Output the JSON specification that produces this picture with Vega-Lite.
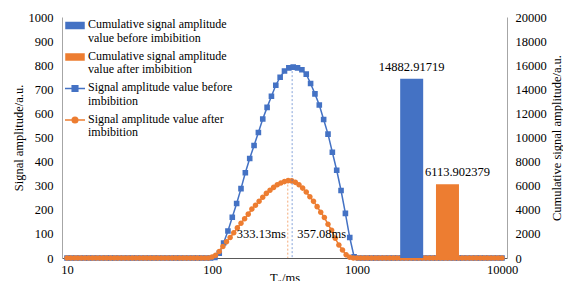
{
  "$schema": "https://vega.github.io/schema/vega-lite/v6.json",
  "width": 445,
  "height": 241,
  "autosize": {"type": "none"},
  "padding": {"left": 62, "top": 17, "right": 56, "bottom": 23},
  "config": {
    "font": "Liberation Serif",
    "view": {"stroke": null},
    "axis": {"labelFont": "Liberation Serif", "titleFont": "Liberation Serif", "labelFontSize": 12.5, "titleFontSize": 12.5, "titleFontWeight": "normal", "labelColor": "#000000", "titleColor": "#000000", "grid": false, "labelOverlap": false},
    "axisQuantitative": {"labelFont": "Liberation Serif", "labelFontSize": 12.5},
    "text": {"font": "Liberation Serif"}
  },
  "datasets": {
    "sig": [
      {"s":"SB","T":10,"v":0},{"s":"SB","T":10.72,"v":0},{"s":"SB","T":11.48,"v":0},{"s":"SB","T":12.3,"v":0},{"s":"SB","T":13.18,"v":0},{"s":"SB","T":14.13,"v":0},{"s":"SB","T":15.14,"v":0},{"s":"SB","T":16.22,"v":0},{"s":"SB","T":17.38,"v":0},{"s":"SB","T":18.62,"v":0},
      {"s":"SB","T":19.95,"v":0},{"s":"SB","T":21.38,"v":0},{"s":"SB","T":22.91,"v":0},{"s":"SB","T":24.55,"v":0},{"s":"SB","T":26.3,"v":0},{"s":"SB","T":28.18,"v":0},{"s":"SB","T":30.2,"v":0},{"s":"SB","T":32.36,"v":0},{"s":"SB","T":34.67,"v":0},{"s":"SB","T":37.15,"v":0},
      {"s":"SB","T":39.81,"v":0},{"s":"SB","T":42.66,"v":0},{"s":"SB","T":45.71,"v":0},{"s":"SB","T":48.98,"v":0},{"s":"SB","T":52.48,"v":0},{"s":"SB","T":56.23,"v":0},{"s":"SB","T":60.26,"v":0},{"s":"SB","T":64.57,"v":0},{"s":"SB","T":69.18,"v":0},{"s":"SB","T":74.13,"v":0},
      {"s":"SB","T":79.43,"v":0},{"s":"SB","T":85.11,"v":0},{"s":"SB","T":91.2,"v":0},{"s":"SB","T":97.72,"v":0},{"s":"SB","T":104.7,"v":2},{"s":"SB","T":112.2,"v":20},{"s":"SB","T":120.2,"v":62},{"s":"SB","T":128.8,"v":112},{"s":"SB","T":138,"v":169},{"s":"SB","T":147.9,"v":226},
      {"s":"SB","T":158.5,"v":288},{"s":"SB","T":169.8,"v":354},{"s":"SB","T":182,"v":413},{"s":"SB","T":195,"v":467},{"s":"SB","T":208.9,"v":521},{"s":"SB","T":223.9,"v":577},{"s":"SB","T":239.9,"v":625},{"s":"SB","T":257,"v":671},{"s":"SB","T":275.4,"v":717},{"s":"SB","T":295.1,"v":750},
      {"s":"SB","T":316.2,"v":776},{"s":"SB","T":338.8,"v":789},{"s":"SB","T":363.1,"v":792},{"s":"SB","T":389,"v":789},{"s":"SB","T":416.9,"v":781},{"s":"SB","T":446.7,"v":763},{"s":"SB","T":478.6,"v":724},{"s":"SB","T":512.9,"v":681},{"s":"SB","T":549.5,"v":635},{"s":"SB","T":588.8,"v":575},
      {"s":"SB","T":631,"v":514},{"s":"SB","T":676.1,"v":439},{"s":"SB","T":724.4,"v":364},{"s":"SB","T":776.2,"v":280},{"s":"SB","T":831.8,"v":185},{"s":"SB","T":891.3,"v":85},{"s":"SB","T":955,"v":5},{"s":"SB","T":1023,"v":0},{"s":"SB","T":1096,"v":0},{"s":"SB","T":1175,"v":0},
      {"s":"SB","T":1259,"v":0},{"s":"SB","T":1349,"v":0},{"s":"SB","T":1445,"v":0},{"s":"SB","T":1549,"v":0},{"s":"SB","T":1660,"v":0},{"s":"SB","T":1778,"v":0},{"s":"SB","T":1905,"v":0},{"s":"SB","T":2042,"v":0},{"s":"SB","T":2188,"v":0},{"s":"SB","T":2344,"v":0},
      {"s":"SB","T":2512,"v":0},{"s":"SB","T":2692,"v":0},{"s":"SB","T":2884,"v":0},{"s":"SB","T":3090,"v":0},{"s":"SB","T":3311,"v":0},{"s":"SB","T":3548,"v":0},{"s":"SB","T":3802,"v":0},{"s":"SB","T":4074,"v":0},{"s":"SB","T":4365,"v":0},{"s":"SB","T":4677,"v":0},
      {"s":"SB","T":5012,"v":0},{"s":"SB","T":5370,"v":0},{"s":"SB","T":5754,"v":0},{"s":"SB","T":6166,"v":0},{"s":"SB","T":6607,"v":0},{"s":"SB","T":7079,"v":0},{"s":"SB","T":7586,"v":0},{"s":"SB","T":8128,"v":0},{"s":"SB","T":8710,"v":0},{"s":"SB","T":9333,"v":0},
      {"s":"SB","T":10000,"v":0},
      {"s":"SA","T":10,"v":0},{"s":"SA","T":10.59,"v":0},{"s":"SA","T":11.22,"v":0},{"s":"SA","T":11.89,"v":0},{"s":"SA","T":12.59,"v":0},{"s":"SA","T":13.34,"v":0},{"s":"SA","T":14.13,"v":0},{"s":"SA","T":14.96,"v":0},{"s":"SA","T":15.85,"v":0},{"s":"SA","T":16.79,"v":0},
      {"s":"SA","T":17.78,"v":0},{"s":"SA","T":18.84,"v":0},{"s":"SA","T":19.95,"v":0},{"s":"SA","T":21.13,"v":0},{"s":"SA","T":22.39,"v":0},{"s":"SA","T":23.71,"v":0},{"s":"SA","T":25.12,"v":0},{"s":"SA","T":26.61,"v":0},{"s":"SA","T":28.18,"v":0},{"s":"SA","T":29.85,"v":0},
      {"s":"SA","T":31.62,"v":0},{"s":"SA","T":33.5,"v":0},{"s":"SA","T":35.48,"v":0},{"s":"SA","T":37.58,"v":0},{"s":"SA","T":39.81,"v":0},{"s":"SA","T":42.17,"v":0},{"s":"SA","T":44.67,"v":0},{"s":"SA","T":47.32,"v":0},{"s":"SA","T":50.12,"v":0},{"s":"SA","T":53.09,"v":0},
      {"s":"SA","T":56.23,"v":0},{"s":"SA","T":59.57,"v":0},{"s":"SA","T":63.1,"v":0},{"s":"SA","T":66.83,"v":0},{"s":"SA","T":70.79,"v":0},{"s":"SA","T":74.99,"v":0},{"s":"SA","T":79.43,"v":0},{"s":"SA","T":84.14,"v":0},{"s":"SA","T":89.13,"v":0},{"s":"SA","T":94.41,"v":0},
      {"s":"SA","T":100,"v":4},{"s":"SA","T":105.9,"v":11},{"s":"SA","T":112.2,"v":27},{"s":"SA","T":118.9,"v":48},{"s":"SA","T":125.9,"v":67},{"s":"SA","T":133.4,"v":85},{"s":"SA","T":141.3,"v":105},{"s":"SA","T":149.6,"v":125},{"s":"SA","T":158.5,"v":144},{"s":"SA","T":167.9,"v":163},
      {"s":"SA","T":177.8,"v":182},{"s":"SA","T":188.4,"v":203},{"s":"SA","T":199.5,"v":219},{"s":"SA","T":211.3,"v":235},{"s":"SA","T":223.9,"v":252},{"s":"SA","T":237.1,"v":268},{"s":"SA","T":251.2,"v":281},{"s":"SA","T":266.1,"v":293},{"s":"SA","T":281.8,"v":304},{"s":"SA","T":298.5,"v":311},
      {"s":"SA","T":316.2,"v":317},{"s":"SA","T":335,"v":321},{"s":"SA","T":354.8,"v":320},{"s":"SA","T":375.8,"v":314},{"s":"SA","T":398.1,"v":304},{"s":"SA","T":421.7,"v":290},{"s":"SA","T":446.7,"v":274},{"s":"SA","T":473.2,"v":254},{"s":"SA","T":501.2,"v":235},{"s":"SA","T":530.9,"v":213},
      {"s":"SA","T":562.3,"v":190},{"s":"SA","T":595.7,"v":168},{"s":"SA","T":631,"v":140},{"s":"SA","T":668.3,"v":115},{"s":"SA","T":707.9,"v":82},{"s":"SA","T":749.9,"v":54},{"s":"SA","T":794.3,"v":33},{"s":"SA","T":841.4,"v":13},{"s":"SA","T":891.3,"v":3},{"s":"SA","T":944.1,"v":0},
      {"s":"SA","T":1000,"v":0},{"s":"SA","T":1059,"v":0},{"s":"SA","T":1122,"v":0},{"s":"SA","T":1189,"v":0},{"s":"SA","T":1259,"v":0},{"s":"SA","T":1334,"v":0},{"s":"SA","T":1413,"v":0},{"s":"SA","T":1496,"v":0},{"s":"SA","T":1585,"v":0},{"s":"SA","T":1679,"v":0},
      {"s":"SA","T":1778,"v":0},{"s":"SA","T":1884,"v":0},{"s":"SA","T":1995,"v":0},{"s":"SA","T":2113,"v":0},{"s":"SA","T":2239,"v":0},{"s":"SA","T":2371,"v":0},{"s":"SA","T":2512,"v":0},{"s":"SA","T":2661,"v":0},{"s":"SA","T":2818,"v":0},{"s":"SA","T":2985,"v":0},
      {"s":"SA","T":3162,"v":0},{"s":"SA","T":3350,"v":0},{"s":"SA","T":3548,"v":0},{"s":"SA","T":3758,"v":0},{"s":"SA","T":3981,"v":0},{"s":"SA","T":4217,"v":0},{"s":"SA","T":4467,"v":0},{"s":"SA","T":4732,"v":0},{"s":"SA","T":5012,"v":0},{"s":"SA","T":5309,"v":0},
      {"s":"SA","T":5623,"v":0},{"s":"SA","T":5957,"v":0},{"s":"SA","T":6310,"v":0},{"s":"SA","T":6683,"v":0},{"s":"SA","T":7079,"v":0},{"s":"SA","T":7499,"v":0},{"s":"SA","T":7943,"v":0},{"s":"SA","T":8414,"v":0},{"s":"SA","T":8913,"v":0},{"s":"SA","T":9441,"v":0},
      {"s":"SA","T":10000,"v":0}
    ],
    "cum": [
      {"s":"CB","T":2383,"v":14882.91719},
      {"s":"CA","T":4207,"v":6113.902379}
    ],
    "peaks": [
      {"s":"SA","T":333.13,"v":321},
      {"s":"SB","T":357.08,"v":792}
    ]
  },
  "layer": [
    {
      "layer": [
        {
          "data": {"name": "sig"},
          "mark": {"type": "line", "strokeWidth": 1.5},
          "encoding": {
            "x": {"field": "T", "type": "quantitative", "scale": {"type": "log", "domain": [10, 10000], "nice": false},
                  "axis": {"values": [10, 100, 1000, 10000], "tickCount": 20, "format": "d", "title": "T₂/ms", "ticks": false, "domainColor": "#595959", "labelPadding": 5, "titlePadding": -4, "labelFlush": false, "labelFont": "Liberation Serif", "labelFontSize": 12.5, "titleFont": "Liberation Serif", "titleFontSize": 12.5}},
            "y": {"field": "v", "type": "quantitative", "scale": {"domain": [0, 1000], "nice": false},
                  "axis": {"orient": "left", "title": "Signal amplitude/a.u.", "tickCount": 20, "values": [0,100,200,300,400,500,600,700,800,900,1000], "format": "d", "labelOverlap": false, "ticks": false, "labelPadding": 9, "titlePadding": 3, "domainColor": "#A6A6A6", "labelFont": "Liberation Serif", "labelFontSize": 12.5, "titleFont": "Liberation Serif", "titleFontSize": 12.5}},
            "color": {"field": "s", "type": "nominal",
                      "scale": {"domain": ["CB", "CA", "SB", "SA"], "range": ["#4472C4", "#ED7D31", "#4472C4", "#ED7D31"]},
                      "legend": {"title": null, "orient": "none", "legendX": 2, "legendY": -2.5, "labelFont": "Liberation Serif", "labelFontSize": 12, "labelColor": "#000000", "labelLimit": 400, "symbolSize": 400, "labelOffset": 2, "rowPadding": 2.5, "labelBaseline": "top",
                                 "labelExpr": "datum.value == 'CB' ? ['Cumulative signal amplitude', 'value before imbibition'] : datum.value == 'CA' ? ['Cumulative signal amplitude', 'value after imbibition'] : datum.value == 'SB' ? [' Signal amplitude value before', 'imbibition'] : ['Signal amplitude value after', 'imbibition']",
                                 "encode": {
                                   "symbols": {"update": {"shape": {"scale": "shape", "field": "value"}, "fill": {"scale": "color", "field": "value"}, "stroke": {"scale": "color", "field": "value"}, "strokeWidth": {"value": 1.5}, "opacity": {"value": 1}}},
                                   "labels": {"update": {"dy": {"value": -6.5}, "lineHeight": {"value": 13.5}}}
                                 }}}
          }
        },
        {
          "data": {"name": "sig"},
          "mark": {"type": "point", "filled": true, "size": 400, "strokeWidth": 0, "opacity": 1},
          "encoding": {
            "x": {"field": "T", "type": "quantitative"},
            "y": {"field": "v", "type": "quantitative"},
            "color": {"field": "s", "type": "nominal"},
            "shape": {"field": "s", "type": "nominal", "legend": null,
                      "scale": {"domain": ["CB", "CA", "SB", "SA"],
                                "range": ["M-0.9,-0.3H0.9V0.3H-0.9Z", "M-0.9,-0.3H0.9V0.3H-0.9Z", "M-1,0H1M-0.28,-0.28H0.28V0.28H-0.28Z", "M-1,0H1M0.28,0A0.28,0.28 0 1,1 -0.28,0A0.28,0.28 0 1,1 0.28,0Z"]}}
          }
        },
        {
          "data": {"name": "peaks"},
          "mark": {"type": "rule", "strokeDash": [2, 2], "strokeWidth": 1, "opacity": 0.65},
          "encoding": {
            "x": {"field": "T", "type": "quantitative"},
            "y": {"field": "v", "type": "quantitative"},
            "y2": {"datum": 0},
            "color": {"field": "s", "type": "nominal"}
          }
        },
        {
          "mark": {"type": "rule", "color": "#ED7D31", "strokeWidth": 1},
          "encoding": {"x": {"datum": 252.7, "type": "quantitative"}, "x2": {"datum": 318}, "y": {"datum": 33, "type": "quantitative"}, "y2": {"datum": 5}}
        },
        {
          "mark": {"type": "rule", "color": "#4472C4", "strokeWidth": 1},
          "encoding": {"x": {"datum": 423.8, "type": "quantitative"}, "x2": {"datum": 372}, "y": {"datum": 33, "type": "quantitative"}, "y2": {"datum": 5}}
        },
        {
          "mark": {"type": "point", "shape": "triangle-up", "filled": true, "size": 24, "angle": 117, "color": "#ED7D31", "opacity": 1},
          "encoding": {"x": {"datum": 321.5, "type": "quantitative"}, "y": {"datum": 4, "type": "quantitative"}}
        },
        {
          "mark": {"type": "point", "shape": "triangle-up", "filled": true, "size": 24, "angle": 229, "color": "#4472C4", "opacity": 1},
          "encoding": {"x": {"datum": 369.8, "type": "quantitative"}, "y": {"datum": 4, "type": "quantitative"}}
        },
        {
          "data": {"values": [{"T": 333.13, "label": "333.13ms"}]},
          "mark": {"type": "text", "align": "right", "baseline": "middle", "dx": -2, "fontSize": 12.5, "color": "#000000"},
          "encoding": {"x": {"field": "T", "type": "quantitative"}, "y": {"datum": 100, "type": "quantitative"}, "text": {"field": "label"}}
        },
        {
          "data": {"values": [{"T": 357.08, "label": "357.08ms"}]},
          "mark": {"type": "text", "align": "left", "baseline": "middle", "dx": 5, "fontSize": 12.5, "color": "#000000"},
          "encoding": {"x": {"field": "T", "type": "quantitative"}, "y": {"datum": 100, "type": "quantitative"}, "text": {"field": "label"}}
        }
      ]
    },
    {
      "data": {"name": "cum"},
      "layer": [
        {
          "mark": {"type": "bar", "size": 23},
          "encoding": {
            "x": {"field": "T", "type": "quantitative"},
            "y": {"field": "v", "type": "quantitative", "scale": {"domain": [0, 20000], "nice": false},
                  "axis": {"orient": "right", "title": "Cumulative signal amplitude/a.u.", "tickCount": 20, "values": [0,2000,4000,6000,8000,10000,12000,14000,16000,18000,20000], "format": "d", "labelOverlap": false, "ticks": false, "labelPadding": 8, "titlePadding": 4, "titleAngle": -90, "titleBaseline": "top", "domainColor": "#A6A6A6", "labelFont": "Liberation Serif", "labelFontSize": 12.5, "titleFont": "Liberation Serif", "titleFontSize": 12.5}},
            "color": {"field": "s", "type": "nominal"}
          }
        },
        {
          "transform": [{"filter": "datum.s == 'CB'"}],
          "mark": {"type": "text", "dy": -12, "fontSize": 12.5, "color": "#000000", "baseline": "middle"},
          "encoding": {
            "x": {"field": "T", "type": "quantitative"},
            "y": {"field": "v", "type": "quantitative"},
            "text": {"field": "v", "type": "quantitative", "format": ".10r"}
          }
        },
        {
          "transform": [{"filter": "datum.s == 'CA'"}],
          "mark": {"type": "text", "dy": -12, "dx": 10, "fontSize": 12.5, "color": "#000000", "baseline": "middle"},
          "encoding": {
            "x": {"field": "T", "type": "quantitative"},
            "y": {"field": "v", "type": "quantitative"},
            "text": {"field": "v", "type": "quantitative", "format": ".10r"}
          }
        }
      ]
    }
  ],
  "resolve": {"scale": {"y": "independent"}}
}
